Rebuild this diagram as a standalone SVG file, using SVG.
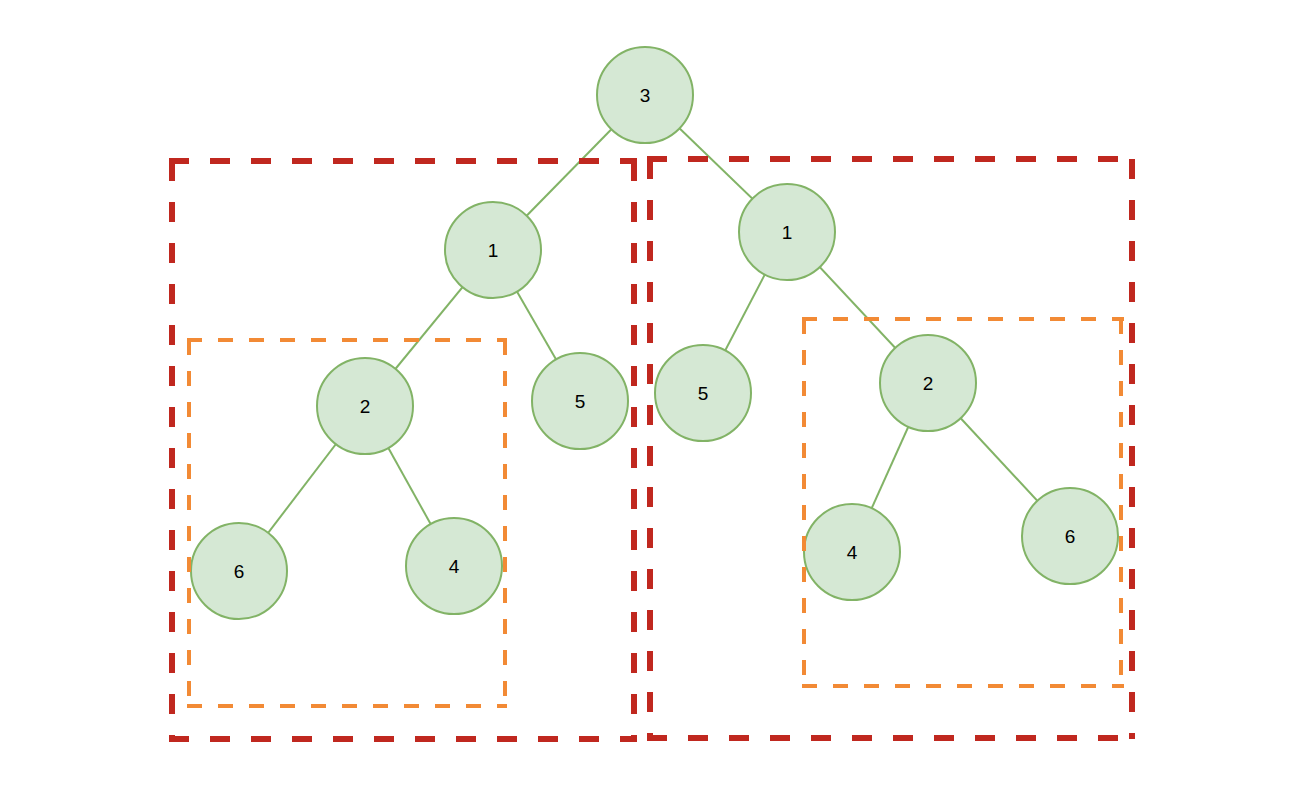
<svg xmlns="http://www.w3.org/2000/svg" width="1312" height="806" viewBox="0 0 1312 806">
<style>
.node circle{fill:#d5e8d4;stroke:#82b366;stroke-width:2}
.node text{font-family:"Liberation Sans",Arial,sans-serif;font-size:19px;fill:#000;text-anchor:middle;dominant-baseline:central}
#edges line{stroke:#82b366;stroke-width:2}
.red{fill:none;stroke:#c0281f;stroke-width:6;stroke-dasharray:20 21}
.orange{fill:none;stroke:#f28a35;stroke-width:4;stroke-dasharray:15 16}
</style>
<rect width="1312" height="806" fill="#fff"/>
<g id="edges">
<line x1="645" y1="95" x2="493" y2="250"/>
<line x1="645" y1="95" x2="787" y2="232"/>
<line x1="493" y1="250" x2="365" y2="406"/>
<line x1="493" y1="250" x2="580" y2="401"/>
<line x1="365" y1="406" x2="239" y2="571"/>
<line x1="365" y1="406" x2="454" y2="566"/>
<line x1="787" y1="232" x2="703" y2="393"/>
<line x1="787" y1="232" x2="928" y2="383"/>
<line x1="928" y1="383" x2="852" y2="552"/>
<line x1="928" y1="383" x2="1070" y2="536"/>
</g>
<g id="n3" class="node"><circle cx="645" cy="95" r="48"/><text x="645" y="95">3</text></g>
<g id="nL1" class="node"><circle cx="493" cy="250" r="48"/><text x="493" y="250">1</text></g>
<g id="nL2" class="node"><circle cx="365" cy="406" r="48"/><text x="365" y="406">2</text></g>
<g id="nL5" class="node"><circle cx="580" cy="401" r="48"/><text x="580" y="401">5</text></g>
<g id="nL6" class="node"><circle cx="239" cy="571" r="48"/><text x="239" y="571">6</text></g>
<g id="nL4" class="node"><circle cx="454" cy="566" r="48"/><text x="454" y="566">4</text></g>
<g id="nR1" class="node"><circle cx="787" cy="232" r="48"/><text x="787" y="232">1</text></g>
<g id="nR5" class="node"><circle cx="703" cy="393" r="48"/><text x="703" y="393">5</text></g>
<g id="nR2" class="node"><circle cx="928" cy="383" r="48"/><text x="928" y="383">2</text></g>
<g id="nR4" class="node"><circle cx="852" cy="552" r="48"/><text x="852" y="552">4</text></g>
<g id="nR6" class="node"><circle cx="1070" cy="536" r="48"/><text x="1070" y="536">6</text></g>
<g id="boxes">
<path class="red" d="M169 161 H637 M634 161 V740 M169 739 H637 M172 161 V740"/>
<path class="red" d="M647 159 H1134 M1132 159 V739 M647 738 H1134 M650 159 V739"/>
<path class="orange" d="M187 340 H507 M505 340 V707 M187 706 H507 M189 340 V707"/>
<path class="orange" d="M802 319 H1124 M1121 319 V687 M802 686 H1124 M804 319 V687"/>
</g>
</svg>
